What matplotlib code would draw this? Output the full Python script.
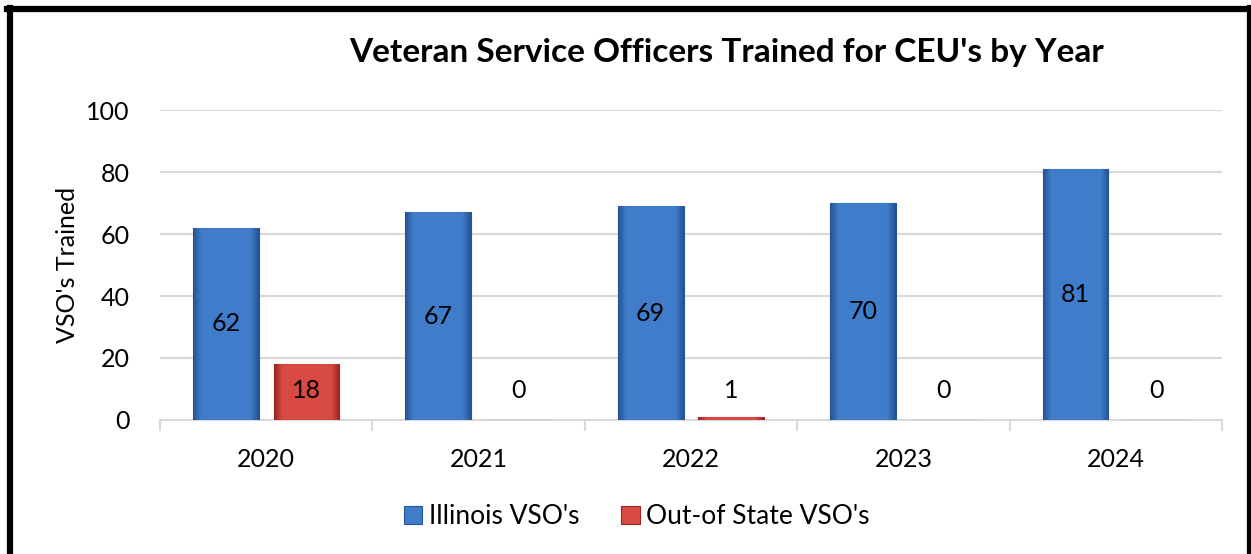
import numpy as np
import matplotlib
matplotlib.use("Agg")
import matplotlib.pyplot as plt
from matplotlib.lines import Line2D
from matplotlib.patches import Rectangle
from matplotlib.legend_handler import HandlerPatch

plt.rcParams['font.family'] = ['Lato', 'DejaVu Sans']

years = ['2020', '2021', '2022', '2023', '2024']
illinois = [62, 67, 69, 70, 81]
out_of_state = [18, 0, 1, 0, 0]

blue_dark = np.array([0.15, 0.33, 0.58])
blue_light = np.array([0.25, 0.49, 0.79])
red_dark = np.array([0.60, 0.15, 0.13])
red_light = np.array([0.85, 0.29, 0.26])


def gradient_fill(ax, bar, dark, light):
    # horizontal bevel: dark edges, lighter middle
    n = 64
    t = np.linspace(0, 1, n)
    prof = np.clip(np.minimum(t, 1 - t) * 8, 0, 1)
    row = dark[None, :] + (light - dark)[None, :] * prof[:, None]
    img = np.repeat(row[None, :, :], 2, axis=0)
    x0, y0 = bar.get_x(), bar.get_y()
    w, h = bar.get_width(), bar.get_height()
    if h <= 0:
        return
    im = ax.imshow(img, extent=(x0, x0 + w, y0, y0 + h), aspect='auto',
                   origin='lower', zorder=bar.get_zorder() + 0.1,
                   interpolation='bilinear')
    im.set_clip_path(bar)


fig = plt.figure(figsize=(12.51, 5.54), dpi=100)
ax = fig.add_axes([0.1279, 0.2419, 0.8489, 0.5595])

x = np.arange(len(years))
w = 0.31
off = 0.19
b1 = ax.bar(x - off, illinois, w, color=blue_light, edgecolor=blue_dark,
            linewidth=0.8, zorder=3, label="Illinois VSO's")
b2 = ax.bar(x + off, out_of_state, w, color=red_light, edgecolor=red_dark,
            linewidth=0.8, zorder=3, label="Out-of State VSO's")
for bar in b1:
    gradient_fill(ax, bar, blue_dark, blue_light)
for bar in b2:
    gradient_fill(ax, bar, red_dark, red_light)

fs = 18
for xi, v in zip(x, illinois):
    ax.text(xi - off, v / 2, str(v), ha='center', va='center', fontsize=fs, zorder=5)
for xi, v in zip(x, out_of_state):
    ax.text(xi + off, max(v / 2, 9.5), str(v), ha='center', va='center', fontsize=fs, zorder=5)

ax.set_xlim(-0.5, len(years) - 0.5)
ax.set_ylim(0, 100)
ax.set_yticks([0, 20, 40, 60, 80, 100])
ax.yaxis.grid(True, color='#d9d9d9', linewidth=1.5, zorder=0)
ax.set_axisbelow(True)
for s in ['top', 'right', 'left']:
    ax.spines[s].set_visible(False)
ax.spines['bottom'].set_color('#d9d9d9')
ax.spines['bottom'].set_linewidth(1.5)
ax.tick_params(axis='y', length=0, labelsize=fs, pad=22)
ax.set_xticks(x)
ax.set_xticklabels(years)
ax.tick_params(axis='x', length=0, labelsize=fs, pad=20)
ax.set_xticks(np.arange(-0.5, len(years)), minor=True)
ax.tick_params(axis='x', which='minor', length=8, width=1.5, color='#d9d9d9')
ax.set_ylabel("VSO's Trained", fontsize=fs, labelpad=5)

fig.text(0.581, 0.906, "Veteran Service Officers Trained for CEU's by Year",
         ha='center', va='center', fontsize=24, fontweight='bold')


class SquareHandler(HandlerPatch):
    def create_artists(self, legend, orig_handle, xdescent, ydescent, width, height, fontsize, trans):
        s = height * 1.0
        p = Rectangle((xdescent + width - s, ydescent + (height - s) / 2), s, s,
                      facecolor=orig_handle.get_facecolor(), edgecolor=orig_handle.get_edgecolor(),
                      linewidth=0.8, transform=trans)
        return [p]


handles = [Rectangle((0, 0), 1, 1, facecolor=blue_light, edgecolor=blue_dark),
           Rectangle((0, 0), 1, 1, facecolor=red_light, edgecolor=red_dark)]
fig.legend(handles, ["Illinois VSO's", "Out-of State VSO's"], loc='center',
           bbox_to_anchor=(0.509, 0.067), ncol=2, frameon=False, fontsize=19,
           handler_map={Rectangle: SquareHandler()}, handlelength=0.7,
           handletextpad=0.25, columnspacing=1.6)

# figure border (left, top, right)
for xs, ys in [([0.0076, 0.0076], [0, 0.985]), ([0.0056, 0.9992], [0.984, 0.984]),
               ([0.9992, 0.9992], [0, 0.985])]:
    fig.add_artist(Line2D(xs, ys, color='black', linewidth=4.5, transform=fig.transFigure))

fig.savefig('out.png', dpi=100)
